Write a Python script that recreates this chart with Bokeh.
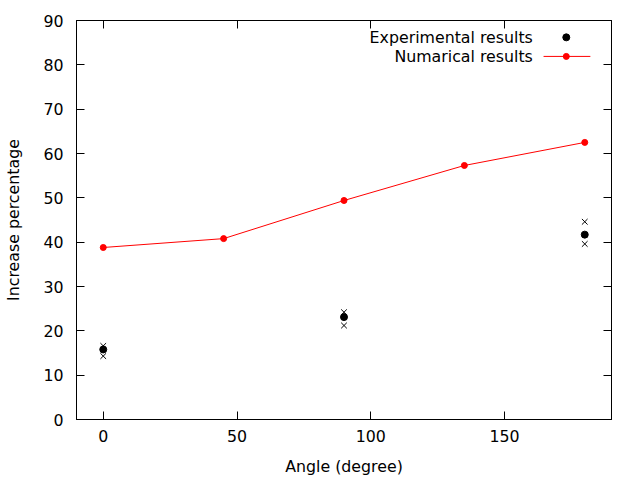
from bokeh.plotting import figure
from bokeh.models import Range1d, LinearAxis, FixedTicker, Label
from bokeh.embed import file_html
from bokeh.resources import INLINE

# Numerical results
num_angle = [0, 45, 90, 135, 180]
num_value = [38.8, 40.8, 49.4, 57.3, 62.5]

# Experimental results (mean) and individual measurements (crosses)
exp_angle = [0, 90, 180]
exp_mean = [15.8, 23.1, 41.7]
exp_high = [16.6, 24.2, 44.6]
exp_low = [14.3, 21.2, 39.6]

x_ticks = [0, 50, 100, 150]
y_ticks = [0, 10, 20, 30, 40, 50, 60, 70, 80, 90]

legend_labels = ["Experimental results", "Numarical results"]

FONT = "DejaVu Sans"
FS = "15.8px"

p = figure(frame_width=535, frame_height=399, output_backend="svg",
           toolbar_location=None, x_range=Range1d(-10, 190), y_range=Range1d(0, 90),
           min_border_left=76, min_border_right=29, min_border_top=20, min_border_bottom=61,
           x_axis_label="Angle (degree)", y_axis_label="Increase percentage")
p.background_fill_color = "white"
p.border_fill_color = "white"
p.outline_line_color = "black"
p.outline_line_width = 1
p.grid.visible = False

for ax in [p.xaxis[0], p.yaxis[0]]:
    ax.major_tick_in = 8
    ax.major_tick_out = 0
    ax.minor_tick_in = 0
    ax.minor_tick_out = 0
    ax.axis_line_color = "black"
    ax.major_tick_line_color = "black"
    ax.major_label_text_font = FONT
    ax.major_label_text_font_size = FS
    ax.major_label_text_color = "black"
    ax.axis_label_text_font = FONT
    ax.axis_label_text_font_size = FS
    ax.axis_label_text_font_style = "normal"
    ax.axis_label_text_color = "black"
p.xaxis[0].ticker = FixedTicker(ticks=x_ticks)
p.yaxis[0].ticker = FixedTicker(ticks=y_ticks)
p.xaxis[0].major_label_standoff = 10
p.yaxis[0].major_label_standoff = 13
p.xaxis[0].axis_label_standoff = 12
p.yaxis[0].axis_label_standoff = 17

right = LinearAxis(ticker=FixedTicker(ticks=y_ticks), major_tick_in=8, major_tick_out=0,
                   minor_tick_in=0, minor_tick_out=0, major_label_text_font_size="0px",
                   major_label_standoff=0)
top = LinearAxis(ticker=FixedTicker(ticks=x_ticks), major_tick_in=8, major_tick_out=0,
                 minor_tick_in=0, minor_tick_out=0, major_label_text_font_size="0px",
                 major_label_standoff=0)
p.add_layout(right, "right")
p.add_layout(top, "above")

# Numerical results
p.line(num_angle, num_value, line_color="red", line_width=1)
p.scatter(num_angle, num_value, marker="circle", size=6, fill_color="red", line_color="red")

# Experimental
p.scatter(exp_angle, exp_high, marker="x", size=8, line_color="black", line_width=1)
p.scatter(exp_angle, exp_low, marker="x", size=8, line_color="black", line_width=1)
p.scatter(exp_angle, exp_mean, marker="circle", size=7, fill_color="black", line_color="black")

# Legend (gnuplot style: text right aligned, sample on the right)
p.add_layout(Label(x=160.6, y=86.2, text=legend_labels[0], text_align="right",
                   text_baseline="middle", text_font=FONT, text_font_size=FS,
                   text_color="black"))
p.add_layout(Label(x=160.6, y=81.9, text=legend_labels[1], text_align="right",
                   text_baseline="middle", text_font=FONT, text_font_size=FS,
                   text_color="black"))
leg_x = [173.1]
p.scatter(leg_x, [86.2], marker="circle", size=7, fill_color="black", line_color="black")
p.line([164.6, 182.1], [81.9, 81.9], line_color="red", line_width=1)
p.scatter(leg_x, [81.9], marker="circle", size=6, fill_color="red", line_color="red")

open("out.html", "w").write(file_html(p, INLINE))
